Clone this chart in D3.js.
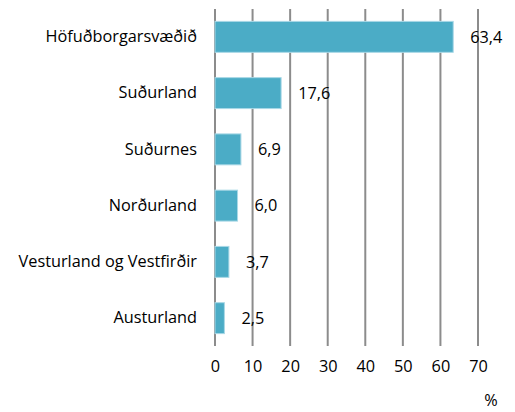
<!DOCTYPE html>
<html>
<head>
<meta charset="utf-8">
<script src="https://cdn.jsdelivr.net/npm/d3@7"></script>
<style>
  body { margin: 0; background: #fff; }
  text { font-family: "Open Sans", sans-serif; fill: #000; }
</style>
</head>
<body>
<svg></svg>
<script>
var categories = ["Höfuðborgarsvæðið", "Suðurland", "Suðurnes", "Norðurland", "Vesturland og Vestfirðir", "Austurland"];
var values = [63.4, 17.6, 6.9, 6.0, 3.7, 2.5];
var ticks = [0, 10, 20, 30, 40, 50, 60, 70];

var svgWidth = 515, svgHeight = 412;
var svg = d3.select("svg")
	.attr("width", svgWidth)
	.attr("height", svgHeight);

var plotLeft = 215, plotRight = 478, plotTop = 9, plotBottom = 346;
var fontSize = "16.3px";

var xScale = d3.scaleLinear()
	.domain([0, 70])
	.range([plotLeft, plotRight]);

var yScale = d3.scaleBand()
	.domain(categories)
	.range([plotTop, plotBottom])
	.paddingInner(0.45)
	.paddingOuter(0.22);

// gridlines
svg.selectAll("line.grid")
	.data(ticks)
	.enter()
	.append("line")
	.attr("class", "grid")
	.attr("x1", function(d) { return xScale(d); })
	.attr("x2", function(d) { return xScale(d); })
	.attr("y1", plotTop)
	.attr("y2", plotBottom)
	.attr("stroke", "#8c8c8c")
	.attr("stroke-width", 2);

// bars
svg.selectAll("rect")
	.data(values)
	.enter()
	.append("rect")
	.attr("x", xScale(0))
	.attr("y", function(d, i) { return yScale(categories[i]); })
	.attr("width", function(d) { return xScale(d) - xScale(0); })
	.attr("height", yScale.bandwidth())
	.attr("fill", "#4bacc6")
	.attr("stroke", "#a9d8e6")
	.attr("stroke-width", 1);

// value labels
svg.selectAll("text.val")
	.data(values)
	.enter()
	.append("text")
	.attr("class", "val")
	.attr("x", function(d) { return xScale(d) + 17; })
	.attr("y", function(d, i) { return yScale(categories[i]) + yScale.bandwidth() / 2; })
	.attr("dy", "0.35em")
	.style("font-size", fontSize)
	.text(function(d) { return d.toFixed(1).replace(".", ","); });

// category axis
var y_axis = d3.axisLeft(yScale).tickSize(0).tickPadding(18);
var gy = svg.append("g")
	.attr("transform", "translate(" + plotLeft + ",0)")
	.call(y_axis);
gy.select(".domain").remove();
gy.selectAll("text").style("font-size", fontSize).style("font-family", "Open Sans, sans-serif").attr("fill", "#000");

// value axis
var x_axis = d3.axisBottom(xScale).tickValues(ticks).tickSize(0).tickPadding(14);
var gx = svg.append("g")
	.attr("transform", "translate(0," + plotBottom + ")")
	.call(x_axis);
gx.select(".domain").remove();
gx.selectAll("text").style("font-size", fontSize).style("font-family", "Open Sans, sans-serif").attr("fill", "#000");

svg.append("text")
	.attr("x", 491)
	.attr("y", 406)
	.attr("text-anchor", "middle")
	.style("font-size", fontSize)
	.text("%");
</script>
</body>
</html>
